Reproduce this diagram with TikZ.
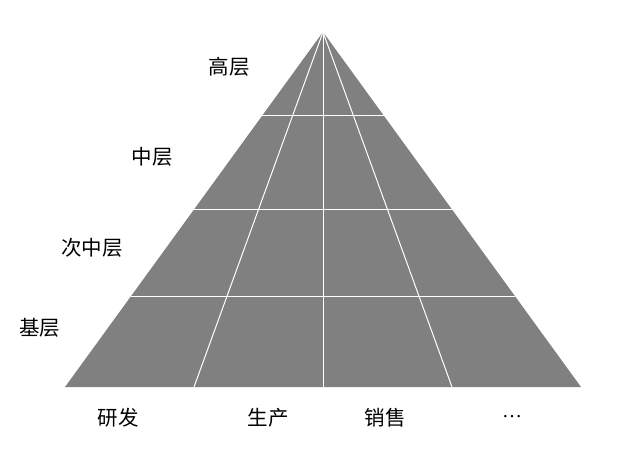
\documentclass[tikz,border=0pt]{standalone}
\usepackage{fontspec}
\setmainfont{Liberation Serif}
\newfontfamily\cjk{Noto Sans CJK SC}
\usetikzlibrary{calc}
\definecolor{pyr}{RGB}{128,128,128}
\tikzset{
  lbl/.style={font=\cjk\fontsize{20.5}{22}\selectfont, text=black, inner sep=0pt},
  grid line/.style={draw=white, line width=1pt}
}
\begin{document}
\begin{tikzpicture}[x=1pt,y=-1pt]
\useasboundingbox (0,0) rectangle (618,465);
\coordinate (A) at (323,32);
\coordinate (L) at (65,387);
\coordinate (R) at (581,387);
\fill[pyr] (A) -- (L) -- (R) -- cycle;
% horizontal lines
\foreach \t [count=\i] in {0.2366,0.4986,0.7437}{
  \coordinate (hl\i) at ($(A)!\t!(L)$);
  \coordinate (hr\i) at ($(A)!\t!(R)$);
  \draw[grid line] (hl\i) -- (hr\i);
}
% radial lines
\coordinate (B1) at ($(L)!0.25!(R)$);
\coordinate (B2) at ($(L)!0.5!(R)$);
\coordinate (B3) at ($(L)!0.75!(R)$);
\draw[grid line] (A) -- (B1);
\draw[grid line] (A) -- (B2);
\draw[grid line] (A) -- (B3);
% labels
\node[lbl] (gao) at (229,67) {高层};
\node[lbl] (zhong) at (152,157) {中层};
\node[lbl] (cizhong) at (92,248) {次中层};
\node[lbl] (ji) at (40,328) {基层};
\node[lbl] (yf) at (118,418) {研发};
\node[lbl] (sc) at (268,418) {生产};
\node[lbl] (xs) at (385,418) {销售};
\node[inner sep=0pt, font=\fontsize{20}{22}\selectfont] (dots) at (512,417) {…};
\end{tikzpicture}
\end{document}
